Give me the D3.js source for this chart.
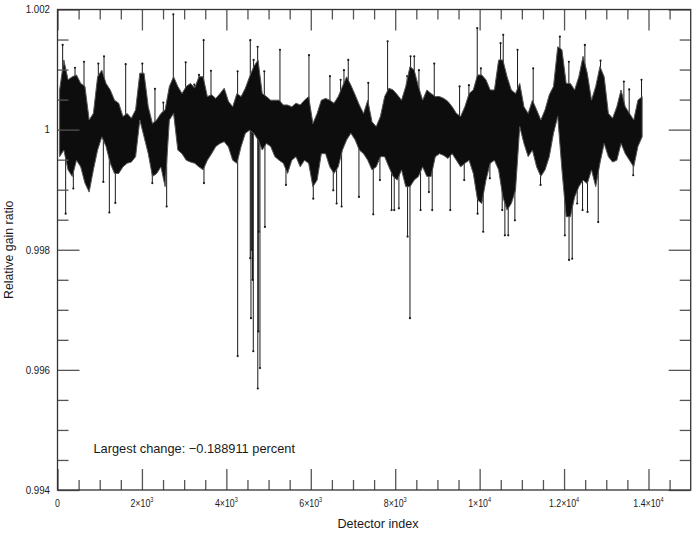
<!DOCTYPE html>
<html><head><meta charset="utf-8">
<script src="https://cdn.jsdelivr.net/npm/d3@7"></script>
<style>
body{margin:0;background:#fff}
svg{display:block}
text{font-family:"Liberation Sans",Arial,sans-serif;fill:#1a1a1a}
</style>
</head><body>
<svg id="chart" width="693" height="534"></svg>
<script>
// ---- data ----
const binWidth = 100; // detectors per envelope bin
const bandHi = [1.00066,1.00116,1.00083,1.00088,1.00091,1.00077,1.00072,1.00016,1.00027,1.00088,
1.00099,1.00077,1.00066,1.00049,1.00044,1.00022,1.00027,1.00019,1.00033,1.00094,
1.00094,1.00038,1.00010,1.00016,1.00027,1.00033,1.00072,1.00088,1.00072,1.00060,
1.00072,1.00077,1.00069,1.00088,1.00088,1.00055,1.00058,1.00052,1.00060,1.00069,
1.00047,1.00038,1.00060,1.00055,1.00069,1.00088,1.00105,1.00116,1.00060,1.00055,
1.00049,1.00049,1.00049,1.00041,1.00041,1.00038,1.00044,1.00041,1.00049,1.00055,
1.00010,1.00027,1.00049,1.00052,1.00049,1.00044,1.00055,1.00072,1.00088,1.00074,
1.00058,1.00041,1.00027,1.00049,1.00013,1.00005,1.00022,1.00055,1.00069,1.00066,
1.00058,1.00049,1.00072,1.00105,1.00099,1.00072,1.00049,1.00066,1.00060,1.00055,
1.00055,1.00052,1.00047,1.00038,1.00027,1.00022,1.00038,1.00060,1.00066,1.00091,
1.00091,1.00083,1.00066,1.00066,1.00116,1.00116,1.00088,1.00066,1.00060,1.00077,
1.00038,1.00027,1.00049,1.00033,1.00016,1.00033,1.00058,1.00072,1.00138,1.00133,
1.00077,1.00077,1.00066,1.00088,1.00122,1.00094,1.00049,1.00072,1.00105,1.00088,
1.00027,1.00019,1.00038,1.00066,1.00038,1.00027,1.00016,1.00049,1.00055];
const bandLo = [0.99955,0.99966,0.99933,0.99922,0.99949,0.99938,0.99911,0.99896,0.99933,0.99966,
0.99988,0.99972,0.99944,0.99927,0.99927,0.99938,0.99944,0.99946,0.99955,1.00016,
0.99988,0.99960,0.99922,0.99927,0.99938,0.99905,1.00016,1.00027,0.99966,0.99960,
0.99949,0.99946,0.99944,0.99938,0.99933,0.99949,0.99960,0.99972,0.99977,0.99980,
0.99971,0.99949,0.99944,0.99972,0.99994,0.99999,0.99994,0.99983,0.99966,0.99977,
0.99972,0.99955,0.99949,0.99944,0.99927,0.99949,0.99955,0.99938,0.99949,0.99944,
0.99905,0.99916,0.99960,0.99960,0.99938,0.99927,0.99938,0.99966,0.99983,0.99994,
0.99983,0.99966,0.99960,0.99949,0.99933,0.99938,0.99955,0.99955,0.99938,0.99922,
0.99916,0.99933,0.99905,0.99905,0.99916,0.99922,0.99938,0.99922,0.99922,0.99955,
0.99960,0.99957,0.99952,0.99960,0.99949,0.99938,0.99944,0.99949,0.99927,0.99883,
0.99877,0.99916,0.99944,0.99949,0.99933,0.99888,0.99866,0.99877,0.99899,1.00005,
0.99977,0.99955,0.99966,0.99938,0.99922,0.99933,0.99955,0.99994,1.00022,0.99933,
0.99855,0.99855,0.99888,0.99905,0.99916,0.99910,0.99933,0.99905,0.99944,0.99977,
0.99955,0.99946,0.99949,0.99977,0.99960,0.99949,0.99938,0.99972,0.99988];
const spikeIndex = [122,193,375,415,628,967,1086,1102,1228,1370,1615,2009,2246,2309,2507,2586,2744,3036,3241,3352,
3462,3470,3636,4267,4268,4566,4567,4583,4600,4620,4638,4646,4741,4745,4757,4770,4796,4899,4914,5270,
5412,5957,6059,6454,6533,6612,6707,6730,6786,6888,7141,7362,7480,7638,7820,7914,7977,8088,8285,8293,
8350,8364,8451,8562,8601,8798,8877,8925,9304,9525,9635,9746,9943,9951,10030,10085,10243,10496,10535,10559,
10598,10677,10835,10898,11269,11443,11901,12019,12114,12118,12193,12311,12438,12493,12556,12809,12864,13417,13543,13638,13835];
const spikeValue = [1.00141,0.99860,0.99902,1.00103,1.00113,1.00110,0.99913,1.00122,0.99862,0.99878,1.00109,1.00110,0.99911,1.00068,1.00045,0.99872,1.00192,1.00112,1.00075,1.00091,
1.00149,0.99911,1.00098,1.00097,0.99623,0.99786,1.00149,0.99686,0.99800,0.99750,0.99631,1.00116,1.00138,0.99569,0.99664,0.99830,0.99603,1.00097,0.99838,1.00133,
0.99908,1.00124,0.99885,1.00089,0.99899,0.99877,1.00083,0.99872,1.00099,1.00116,0.99888,1.00078,0.99859,0.99916,1.00147,0.99866,0.99866,0.99869,1.00089,0.99822,
0.99686,1.00122,1.00122,1.00099,0.99866,0.99896,0.99866,1.00110,0.99866,1.00072,0.99916,1.00074,1.00169,0.99860,1.00102,0.99830,0.99919,1.00144,0.99866,1.00158,
0.99824,0.99824,0.99849,1.00133,1.00102,0.99908,1.00155,0.99824,1.00113,0.99783,0.99785,0.99877,0.99866,1.00141,0.99863,0.99846,1.00115,1.00080,1.00067,0.99924,1.00083];
const xDomain = [0, 15000];
const yDomain = [0.994, 1.002];
const xMajorTicks = [0,2000,4000,6000,8000,10000,12000,14000];
const xMinorTicks = [500,1000,1500,2500,3000,3500,4500,5000,5500,6500,7000,7500,8500,9000,9500,10500,11000,11500,12500,13000,13500,14500];
const yMajorTicks = [0.994,0.996,0.998,1,1.002];
const yMajorLabels = ["0.994","0.996","0.998","1","1.002"];
const yMinorTicks = [0.9945,0.995,0.9955,0.9965,0.997,0.9975,0.9985,0.999,0.9995,1.0005,1.001,1.0015];
const xTitle = "Detector index";
const yTitle = "Relative gain ratio";
const note = "Largest change: \u22120.188911 percent";

// ---- drawing ----
const svg = d3.select("#chart");
const L = 57.5, R = 690.7, T = 9.5, B = 490;
const x = d3.scaleLinear().domain(xDomain).range([L, R]);
const y = d3.scaleLinear().domain(yDomain).range([B, T]);

const bins = bandHi.map((h, k) => ({i: k * binWidth + binWidth / 2, hi: h, lo: bandLo[k]}));
const spikes = spikeIndex.map((i, k) => {
  const b = bins[Math.min(bins.length - 1, Math.floor(i / binWidth))];
  return {i, v: spikeValue[k], base: (b.hi + b.lo) / 2};
});

const g = svg.append("g");
g.selectAll("line.spike").data(spikes).join("line")
  .attr("class", "spike")
  .attr("x1", d => x(d.i)).attr("x2", d => x(d.i))
  .attr("y1", d => y(d.base)).attr("y2", d => y(d.v))
  .attr("stroke", "#1a1a1a").attr("stroke-width", 1);
g.selectAll("circle.tip").data(spikes).join("circle")
  .attr("class", "tip")
  .attr("cx", d => x(d.i)).attr("cy", d => y(d.v)).attr("r", 1.1)
  .attr("fill", "#1a1a1a");
const area = d3.area().x(d => x(d.i)).y0(d => y(d.lo)).y1(d => y(d.hi));
g.append("path").datum(bins).attr("d", area)
  .attr("fill", "#0d0d0d").attr("stroke", "#555").attr("stroke-width", 1);

function styleAxis(sel) {
  sel.select(".domain").remove();
  sel.selectAll(".tick line").attr("stroke", "#555").attr("stroke-width", 1.3);
  sel.selectAll(".tick text").remove();
}
svg.append("g").attr("transform", `translate(0,${B})`)
  .call(d3.axisBottom(x).tickValues(xMajorTicks).tickSize(-21)).call(styleAxis);
svg.append("g").attr("transform", `translate(0,${B})`)
  .call(d3.axisBottom(x).tickValues(xMinorTicks).tickSize(-10)).call(styleAxis);
svg.append("g").attr("transform", `translate(0,${T})`)
  .call(d3.axisTop(x).tickValues(xMajorTicks).tickSize(-21)).call(styleAxis);
svg.append("g").attr("transform", `translate(0,${T})`)
  .call(d3.axisTop(x).tickValues(xMinorTicks).tickSize(-10)).call(styleAxis);
svg.append("g").attr("transform", `translate(${L},0)`)
  .call(d3.axisLeft(y).tickValues(yMajorTicks).tickSize(-22)).call(styleAxis);
svg.append("g").attr("transform", `translate(${L},0)`)
  .call(d3.axisLeft(y).tickValues(yMinorTicks).tickSize(-11)).call(styleAxis);
svg.append("g").attr("transform", `translate(${R},0)`)
  .call(d3.axisRight(y).tickValues(yMajorTicks).tickSize(-22)).call(styleAxis);
svg.append("g").attr("transform", `translate(${R},0)`)
  .call(d3.axisRight(y).tickValues(yMinorTicks).tickSize(-11)).call(styleAxis);

svg.append("rect").attr("x", L).attr("y", T).attr("width", R - L).attr("height", B - T)
  .attr("fill", "none").attr("stroke", "#333").attr("stroke-width", 1.3);

// y tick labels (slightly condensed)
svg.selectAll("text.ylab").data(yMajorTicks).join("text")
  .attr("class", "ylab")
  .attr("transform", d => `translate(${L - 7.5},${y(d) + 3.8}) scale(0.9,1)`)
  .attr("text-anchor", "end").attr("font-size", 10.8)
  .text((d, k) => yMajorLabels[k]);

// x tick labels (condensed, with superscript exponent)
const xl = svg.selectAll("text.xlab").data(xMajorTicks).join("text")
  .attr("class", "xlab")
  .attr("transform", d => `translate(${x(d)},507) scale(0.8,1)`)
  .attr("text-anchor", "middle").attr("font-size", 11);
xl.each(function(d) {
  const t = d3.select(this);
  if (d === 0) { t.text("0"); return; }
  const e = Math.floor(Math.log10(d));
  const m = +(d / Math.pow(10, e)).toFixed(2);
  t.append("tspan").text(m + "\u00d710");
  t.append("tspan").attr("font-size", 7).attr("dy", -4.8).text(e);
});

svg.append("text").attr("x", 378).attr("y", 527.5)
  .attr("text-anchor", "middle").attr("font-size", 12.6).text(xTitle);
svg.append("text").attr("transform", `translate(12.8,${(T + B) / 2}) rotate(-90)`)
  .attr("text-anchor", "middle").attr("font-size", 12.3).text(yTitle);
svg.append("text").attr("x", 93.5).attr("y", 452.8)
  .attr("font-size", 12.8).text(note);
</script>
</body></html>
